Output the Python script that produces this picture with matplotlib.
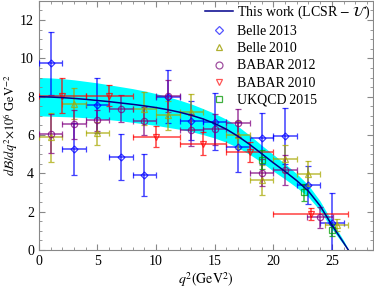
import matplotlib
matplotlib.use('Agg')
import matplotlib.pyplot as plt
from matplotlib.ticker import MultipleLocator
from matplotlib.lines import Line2D

plt.rcParams['font.family'] = 'Liberation Serif'
plt.rcParams['mathtext.fontset'] = 'stix'

# theory curve (LCSR) and its uncertainty band
q2_th = [0, 1, 2, 3, 4, 5, 6, 7, 8, 9, 10, 11, 12, 13, 14, 15, 16, 17, 18, 19,
         20, 21, 22, 23, 24, 25, 26, 26.4]
dbr_th = [8.00, 7.98, 7.95, 7.91, 7.86, 7.80, 7.74, 7.67, 7.60, 7.52, 7.43, 7.32,
          7.19, 7.03, 6.84, 6.60, 6.30, 5.93, 5.50, 5.03, 4.55, 4.10, 3.62, 3.07,
          2.30, 1.30, 0.38, 0.0]
dbr_up = [9.00, 8.98, 8.94, 8.88, 8.80, 8.72, 8.62, 8.52, 8.42, 8.30, 8.16, 8.00,
          7.82, 7.62, 7.38, 7.12, 6.82, 6.45, 5.98, 5.47, 4.98, 4.50, 3.98, 3.38,
          2.55, 1.50, 0.50, 0.05]
dbr_lo = [7.00, 6.98, 6.96, 6.94, 6.90, 6.85, 6.80, 6.74, 6.66, 6.58, 6.50, 6.40,
          6.30, 6.18, 6.02, 5.84, 5.62, 5.34, 4.98, 4.58, 4.12, 3.70, 3.26, 2.76,
          2.05, 1.10, 0.28, 0.0]

# Belle 2013
belle13_x = [1, 3, 5, 7, 9, 11, 13, 15, 17, 19, 21, 23, 25]
belle13_y = [9.75, 5.26, 7.55, 4.85, 3.9, 8.0, 6.75, 6.7, 5.38, 5.82, 5.94, 3.4, 1.42]
belle13_e = [1.65, 1.35, 1.45, 1.18, 1.1, 1.37, 1.0, 1.5, 1.3, 1.35, 1.45, 1.0, 1.53]
belle13_xe = [1, 1, 1, 1, 1, 1, 1, 1, 1, 1, 1, 1, 1]

# Belle 2010
belle10_x = [1, 3, 5, 9, 11, 13, 17, 19, 21, 23, 25.4]
belle10_y = [5.87, 7.64, 6.08, 7.38, 7.03, 7.2, 5.99, 3.65, 4.77, 3.99, 1.3]
belle10_e = [1.3, 0.8, 0.62, 0.85, 0.75, 0.95, 0.72, 0.78, 0.7, 0.65, 0.3]
belle10_xe = [1, 1, 1, 1, 1, 1, 1, 1, 1, 1, 0.95]

# BABAR 2012
babar12_x = [1, 3, 5, 7, 9, 11, 13, 15, 17, 19, 21, 24]
babar12_y = [6.07, 6.56, 6.77, 7.38, 6.73, 8.04, 6.25, 6.3, 6.63, 4.03, 4.17, 1.7]
babar12_e = [1.0, 0.75, 0.55, 0.7, 0.75, 0.85, 0.85, 0.8, 0.75, 0.7, 0.8, 0.56]
babar12_xe = [1, 1, 1, 1, 1, 1, 1, 1, 1, 1, 1, 1.1]

# BABAR 2010
babar10_x = [2, 6, 10, 14, 18, 23.2]
babar10_y = [8.04, 8.05, 5.92, 5.55, 5.1, 1.87]
babar10_e = [0.91, 0.55, 0.55, 0.6, 0.52, 0.32]
babar10_xe = [2, 2, 2, 2, 2, 3.2]

# UKQCD 2015
ukqcd_x = [19.0, 22.6, 25.0]
ukqcd_y = [4.7, 3.0, 1.05]
ukqcd_e = [0.5, 0.45, 0.33]

fig = plt.figure(figsize=(3.74, 2.92), dpi=100)
ax = fig.add_axes([0.104, 0.144, 0.893, 0.853])

ax.fill_between(q2_th, dbr_lo, dbr_up, color='#00ffff', lw=0, zorder=1)
ax.plot(q2_th, dbr_th, color='#00008b', lw=1.1, zorder=5)

kw = dict(ls='none', mfc='none', capsize=2, elinewidth=1.1, capthick=1.1,
          mew=0.9, alpha=0.75, zorder=3)
ax.errorbar(belle13_x, belle13_y, yerr=belle13_e, xerr=belle13_xe, marker='D', ms=3.5,
            color='#0000ff', **kw)
ax.errorbar(belle10_x, belle10_y, yerr=belle10_e, xerr=belle10_xe, marker='^', ms=4.5,
            color='#a8a800', **kw)
ax.errorbar(babar12_x, babar12_y, yerr=babar12_e, xerr=babar12_xe, marker='o', ms=4.5,
            color='#800080', **kw)
ax.errorbar(babar10_x, babar10_y, yerr=babar10_e, xerr=babar10_xe, marker='v', ms=4.5,
            color='#ff0000', **kw)
ax.errorbar(ukqcd_x, ukqcd_y, yerr=ukqcd_e, marker='s', ms=4.5,
            color='#00a000', **kw)

ax.set_xlim(0, 28.5)
ax.set_ylim(0, 13)
ax.xaxis.set_major_locator(MultipleLocator(5))
ax.xaxis.set_minor_locator(MultipleLocator(1))
ax.yaxis.set_major_locator(MultipleLocator(2))
ax.yaxis.set_minor_locator(MultipleLocator(0.5))
ax.tick_params(which='both', direction='in', top=True, right=True, colors='#888888',
               labelcolor='black', labelsize=10)
ax.tick_params(which='major', length=4)
ax.tick_params(which='minor', length=2)
for s in ax.spines.values():
    s.set_color('#888888')
    s.set_linewidth(0.8)

ax.set_xlabel(r'$q^2(\mathrm{GeV}^2)$', fontsize=10, labelpad=2)
ax.set_ylabel(r'$d\mathcal{B}/dq^2{\times}10^6\ \mathrm{GeV}^{-2}$', fontsize=9)
ax.yaxis.set_label_coords(-0.056, 0.5)

handles = [
    Line2D([], [], color='#00008b', lw=1.1),
    Line2D([], [], ls='none', marker='D', ms=4, mfc='none', mew=0.9, color='#5555ff'),
    Line2D([], [], ls='none', marker='^', ms=5, mfc='none', mew=0.9, color='#b0b030'),
    Line2D([], [], ls='none', marker='o', ms=5, mfc='none', mew=0.9, color='#a050a0'),
    Line2D([], [], ls='none', marker='v', ms=5, mfc='none', mew=0.9, color='#ff5555'),
    Line2D([], [], ls='none', marker='s', ms=5, mfc='none', mew=0.9, color='#40b040'),
]
labels = [r'This work (LCSR $-$ $\mathcal{U}$)', 'Belle\u20092013', 'Belle\u20092010',
          'BABAR\u20092012', 'BABAR\u20092010', 'UKQCD\u20092015']
ax.legend(handles, labels, loc='upper right', frameon=False, fontsize=10,
          handlelength=2.0, handletextpad=0.3, labelspacing=0.3,
          borderaxespad=0.1, borderpad=0.1)

fig.savefig('out.png', dpi=100)
